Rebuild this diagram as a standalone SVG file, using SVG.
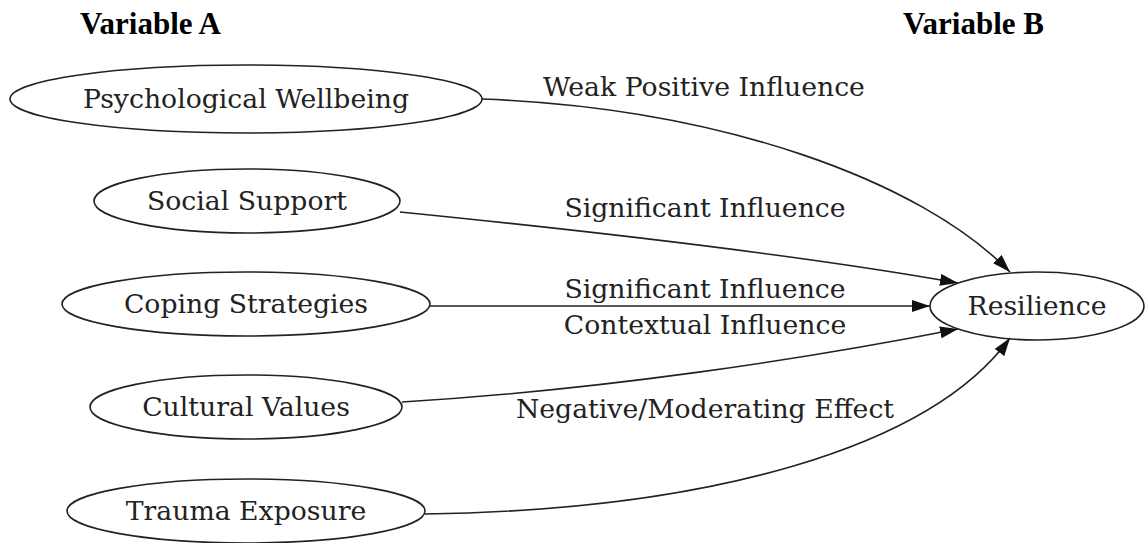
<svg xmlns="http://www.w3.org/2000/svg" width="1145" height="543" viewBox="0 0 1145 543">
<defs>
<marker id="arr" viewBox="0 0 18 12" refX="18" refY="6" markerWidth="18" markerHeight="12" markerUnits="userSpaceOnUse" orient="auto">
<path d="M0,0 L18,6 L0,12 z" fill="#111"/>
</marker>
<style>
.node ellipse{fill:none;stroke:#222;stroke-width:1.6}
.node text{font-family:"DejaVu Serif",serif;font-size:26.7px;fill:#222;text-anchor:middle}
.lbl{font-family:"DejaVu Serif",serif;font-size:26.7px;fill:#222;text-anchor:middle}
.title{font-family:"Liberation Serif",serif;font-size:31px;font-weight:bold;fill:#000}
#edges path{fill:none;stroke:#222;stroke-width:1.6;marker-end:url(#arr)}
</style>
</defs>
<rect width="1145" height="543" fill="#fff"/>
<text class="title" x="80" y="34">Variable A</text>
<text class="title" x="903" y="34">Variable B</text>
<g id="edges">
<path d="M482,99 C720,108 920,180 1010,272"/>
<path d="M400,212 C600,232 800,255 958,283"/>
<path d="M430,306 L930,306"/>
<path d="M402,402 C600,390 800,360 958,329"/>
<path d="M425,514 C710,510 930,448 1010,338"/>
</g>
<g id="n1" class="node"><ellipse cx="246" cy="99" rx="236" ry="34"/><text x="246" y="108">Psychological Wellbeing</text></g>
<g id="n2" class="node"><ellipse cx="247" cy="201" rx="153" ry="32"/><text x="247" y="210">Social Support</text></g>
<g id="n3" class="node"><ellipse cx="246" cy="304" rx="184" ry="32"/><text x="246" y="313">Coping Strategies</text></g>
<g id="n4" class="node"><ellipse cx="246" cy="407" rx="156" ry="32"/><text x="246" y="416">Cultural Values</text></g>
<g id="n5" class="node"><ellipse cx="246" cy="511" rx="179" ry="32"/><text x="246" y="520">Trauma Exposure</text></g>
<g id="n6" class="node"><ellipse cx="1037" cy="306" rx="107" ry="34"/><text x="1037" y="315">Resilience</text></g>
<text class="lbl" x="704" y="96">Weak Positive Influence</text>
<text class="lbl" x="705" y="217">Significant Influence</text>
<text class="lbl" x="705" y="298">Significant Influence</text>
<text class="lbl" x="705" y="334">Contextual Influence</text>
<text class="lbl" x="705" y="418">Negative/Moderating Effect</text>
</svg>
